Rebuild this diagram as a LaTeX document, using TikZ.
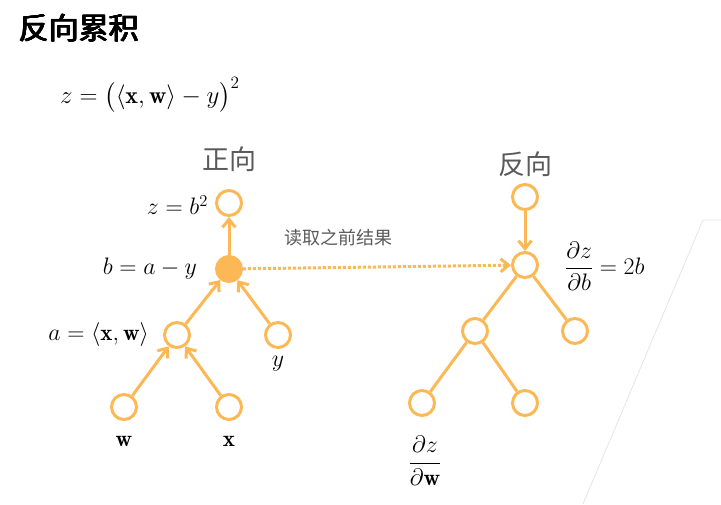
\documentclass[tikz,border=0pt]{standalone}
\usepackage{amsmath}
\usepackage{fontspec}
\newfontfamily\cjk{Noto Sans CJK SC}
\usetikzlibrary{arrows.meta}
\definecolor{og}{HTML}{FBB854}
\definecolor{gr}{HTML}{5A5A5A}
\begin{document}
\begin{tikzpicture}[x=1pt,y=-1pt,
  nd/.style={circle,draw=og,line width=3pt,minimum size=25pt,inner sep=0pt},
  ln/.style={draw=og,line width=3pt},
  ar/.style={ln,-{Straight Barb[length=8pt,width=13pt]}},
  lab/.style={font=\fontsize{20}{22}\selectfont,scale=1.15},
  zh/.style={font=\cjk\fontsize{27}{29}\selectfont,text=gr}]
\useasboundingbox (0,0) rectangle (721,504);
\draw[black!10,line width=0.8pt] (721,220) -- (703,220) -- (583,504);
\foreach \dx/\dy in {0/0,0.5/0,1/0,0/0.5,0.5/0.5,1/0.5}
  \node[anchor=west,font=\cjk\fontsize{30}{32}\selectfont] at (15+\dx,28+\dy) {反向累积};
\node[anchor=west,font=\cjk\fontsize{30}{32}\selectfont] (title) at (15.5,28) {反向累积};
\node[anchor=west,font=\fontsize{20}{22}\selectfont,scale=1.2] (eq) at (56,95) {$z=\bigl(\langle\mathbf{x},\mathbf{w}\rangle-y\bigr)^2$};
% left tree
\node[nd] (z) at (229,203) {};
\node[nd,fill=og] (b) at (229,269) {};
\node[nd] (a) at (177,335) {};
\node[nd] (y) at (278,335) {};
\node[nd] (w) at (124,407) {};
\node[nd] (x) at (229,407) {};
\draw[ar] (b) -- (z);
\draw[ar] (a) -- (b);
\draw[ar] (y) -- (b);
\draw[ar] (w) -- (a);
\draw[ar] (x) -- (a);
\node[lab,anchor=east] (lz) at (212,205) {$z=b^2$};
\node[lab,anchor=east] (lb) at (201,269) {$b=a-y$};
\node[lab,anchor=east] (la) at (153,335) {$a=\langle\mathbf{x},\mathbf{w}\rangle$};
\node[lab] (ly) at (278,364) {$y$};
\node[lab] (lw) at (124,441) {$\mathbf{w}$};
\node[lab] (lx) at (229,441) {$\mathbf{x}$};
\node[zh] (fwd) at (229,159) {正向};
% right tree
\node[nd] (t) at (525,197) {};
\node[nd] (db) at (525,265) {};
\node[nd] (L) at (475,331) {};
\node[nd] (R) at (575,331) {};
\node[nd] (LL) at (422,403) {};
\node[nd] (LR) at (525,403) {};
\draw[ar] (t) -- (db);
\draw[ln] (db) -- (L);
\draw[ln] (db) -- (R);
\draw[ln] (L) -- (LL);
\draw[ln] (L) -- (LR);
\node[zh] (bwd) at (525,164) {反向};
\node[lab,anchor=west] (ldb) at (561,266) {$\dfrac{\partial z}{\partial b}=2b$};
\node[lab] (ldw) at (425,461) {$\dfrac{\partial z}{\partial \mathbf{w}}$};
% dotted
\draw[og,line width=3pt,dotted,-{Straight Barb[length=8pt,width=13pt]}] (b) -- (db);
\node[font=\cjk\fontsize{18}{20}\selectfont,text=gr] (rd) at (338,238) {读取之前结果};
\end{tikzpicture}
\end{document}
